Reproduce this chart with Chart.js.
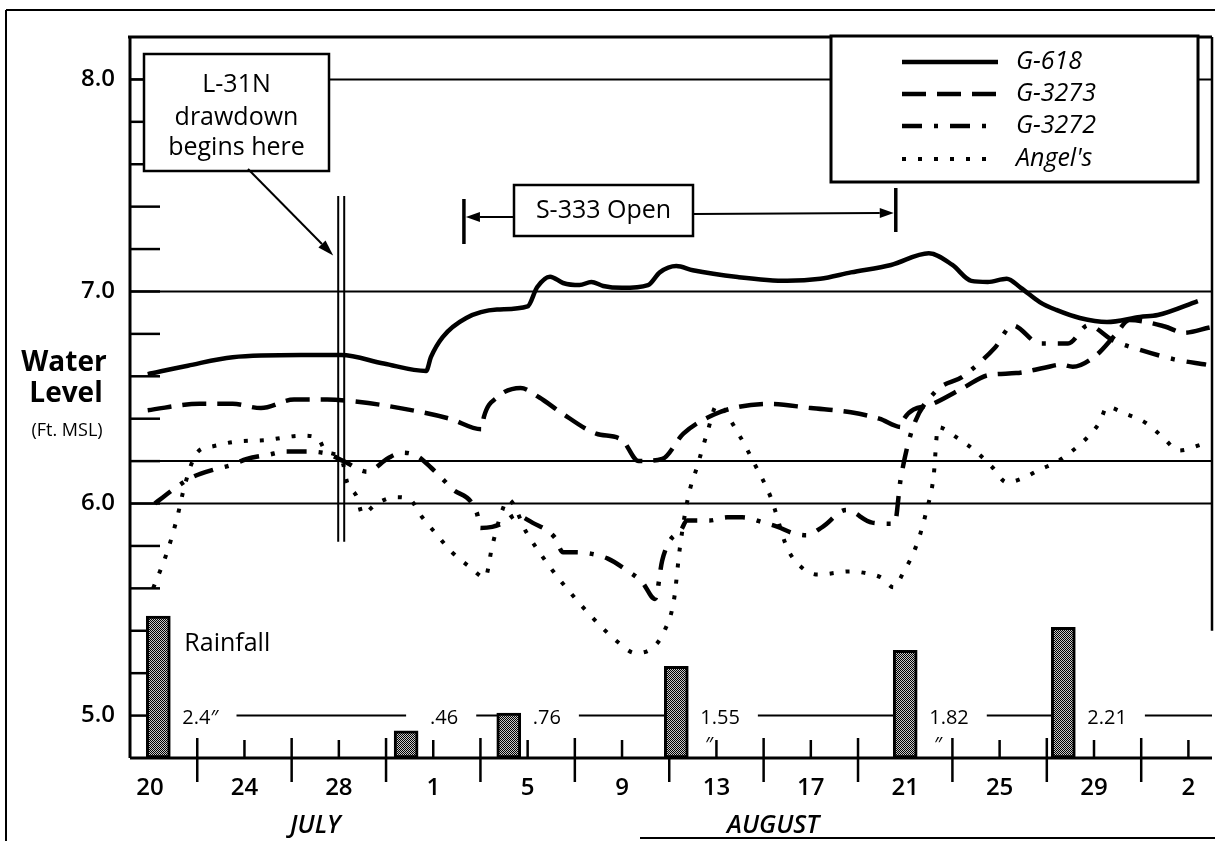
<!DOCTYPE html>
<html>
<head>
<meta charset="utf-8">
<title>Water Level and Rainfall, July–September</title>
<script src="https://cdn.jsdelivr.net/npm/chart.js@4.4.1/dist/chart.umd.min.js"></script>
<style>
  html, body { margin: 0; padding: 0; background: #fff; }
  #wrap { width: 1215px; height: 841px; }
</style>
</head>
<body>
<div id="wrap"><canvas id="chart" width="1215" height="841"></canvas></div>
<script>
const FONT = "'Open Sans', 'Noto Sans', 'DejaVu Sans', sans-serif";

// Days are counted from July 20 (day 0).
const dayTicks      = [0, 4, 8, 12, 16, 20, 24, 28, 32, 36, 40, 44];
const dayTickLabels = ['20', '24', '28', '1', '5', '9', '13', '17', '21', '25', '29', '2'];
const midDayTicks   = [2, 6, 10, 14, 18, 22, 26, 30, 34, 38, 42];
const monthLabels   = ['JULY', 'AUGUST'];
const monthCenters  = [7.0, 26.4];

// Water level axis (ft MSL)
const levelTicks = [5.0, 6.0, 7.0, 8.0];
const refLevels  = [8.0, 7.0, 6.2, 6.0];

// G-618
const g618Days  = [-0.1, 1.6, 3.5, 6.4, 8.1, 9.9, 11.7, 11.9, 12.4, 13.4, 14.7, 16.0, 16.4, 16.95, 17.5, 18.2, 18.7, 19.2, 20.0, 21.1, 21.6, 22.3, 23.0, 24.9, 27.0, 28.4, 29.7, 31.4, 33.0, 34.0, 34.8, 35.5, 36.3, 36.9, 37.7, 38.4, 39.4, 40.55, 41.95, 42.7, 44.4];
const g618Level = [6.61, 6.65, 6.69, 6.70, 6.70, 6.66, 6.625, 6.69, 6.785, 6.875, 6.915, 6.93, 7.02, 7.07, 7.04, 7.03, 7.045, 7.026, 7.017, 7.03, 7.09, 7.12, 7.10, 7.068, 7.05, 7.06, 7.09, 7.125, 7.18, 7.125, 7.05, 7.045, 7.06, 7.017, 6.95, 6.913, 6.875, 6.856, 6.88, 6.889, 6.955];

// G-3273
const g3273Days  = [-0.1, 2.1, 3.5, 4.7, 6.1, 7.5, 8.8, 10.6, 12.7, 14.05, 14.15, 14.7, 15.7, 16.5, 17.4, 18.9, 20.0, 20.7, 21.7, 22.6, 23.9, 24.9, 26.3, 28.0, 29.7, 30.9, 31.85, 31.95, 33.05, 34.45, 35.5, 36.7, 37.9, 38.6, 39.1, 40.1, 40.9, 41.5, 43.0, 43.8, 44.9];
const g3273Level = [6.44, 6.47, 6.47, 6.45, 6.49, 6.49, 6.48, 6.45, 6.40, 6.35, 6.41, 6.50, 6.545, 6.50, 6.43, 6.33, 6.30, 6.20, 6.21, 6.33, 6.42, 6.455, 6.47, 6.45, 6.43, 6.40, 6.36, 6.40, 6.465, 6.545, 6.605, 6.615, 6.64, 6.655, 6.645, 6.70, 6.795, 6.865, 6.835, 6.805, 6.83];

// G-3272
const g3272Days  = [0.2, 0.55, 1.15, 1.8, 2.7, 3.4, 4.1, 5.0, 5.8, 6.5, 7.5, 8.2, 9.2, 10.1, 10.7, 11.3, 11.9, 12.8, 13.85, 14.0, 14.5, 15.0, 15.5, 16.2, 17.15, 17.5, 17.9, 18.6, 19.4, 20.2, 20.85, 21.4, 21.7, 22.0, 22.5, 22.75, 23.7, 24.45, 25.1, 26.0, 26.6, 27.25, 27.8, 28.5, 29.5, 30.6, 31.55, 31.8, 32.3, 33.3, 34.45, 35.8, 36.55, 37.7, 38.9, 39.75, 40.8, 42.1, 43.4, 44.75];
const g3272Level = [6.00, 6.03, 6.08, 6.125, 6.16, 6.18, 6.21, 6.23, 6.245, 6.245, 6.235, 6.20, 6.15, 6.215, 6.24, 6.225, 6.17, 6.07, 5.955, 5.885, 5.89, 5.91, 5.945, 5.91, 5.84, 5.77, 5.77, 5.765, 5.74, 5.685, 5.63, 5.55, 5.73, 5.82, 5.875, 5.92, 5.92, 5.935, 5.935, 5.91, 5.89, 5.86, 5.85, 5.89, 5.97, 5.91, 5.905, 6.11, 6.35, 6.53, 6.60, 6.735, 6.84, 6.755, 6.755, 6.84, 6.77, 6.72, 6.68, 6.655];

// Angel's
const angelsDays  = [0.13, 0.72, 1.14, 1.48, 1.99, 2.67, 3.52, 4.96, 6.44, 7.1, 7.42, 8.14, 8.35, 8.77, 9.0, 9.6, 10.4, 11.0, 11.5, 12.1, 12.8, 13.56, 14.2, 14.5, 14.9, 15.17, 15.97, 16.95, 18.0, 19.2, 19.9, 20.55, 21.3, 21.8, 22.2, 22.45, 22.8, 23.2, 23.6, 24.03, 24.9, 25.6, 26.3, 27.0, 27.6, 28.3, 29.7, 30.4, 31.0, 31.5, 31.9, 32.5, 32.9, 33.2, 33.39, 34.2, 35.0, 35.7, 36.3, 37.0, 37.7, 38.4, 39.1, 39.7, 40.25, 40.55, 41.3, 42.2, 42.9, 43.6, 44.6];
const angelsLevel = [5.60, 5.77, 5.93, 6.09, 6.24, 6.27, 6.29, 6.30, 6.32, 6.31, 6.25, 6.20, 6.10, 6.03, 5.95, 6.00, 6.03, 6.02, 5.94, 5.86, 5.77, 5.70, 5.65, 5.80, 5.96, 6.02, 5.86, 5.70, 5.555, 5.41, 5.34, 5.295, 5.32, 5.40, 5.545, 5.79, 6.03, 6.18, 6.33, 6.465, 6.335, 6.19, 6.03, 5.79, 5.70, 5.665, 5.68, 5.67, 5.65, 5.605, 5.67, 5.81, 5.965, 6.125, 6.36, 6.31, 6.245, 6.17, 6.10, 6.12, 6.16, 6.195, 6.25, 6.31, 6.385, 6.455, 6.425, 6.38, 6.315, 6.25, 6.28];

// Rainfall (inches)
const rainDays       = [0.35, 10.85, 15.2, 22.3, 32.0, 38.7];
const rainInches     = [2.4, 0.46, 0.76, 1.55, 1.82, 2.21];
const rainLabels     = ['2.4″', '.46', '.76', '1.55', '1.82', '2.21'];
const rainLabelMarks = ['', '', '', '″', '″', ''];

// Events
const drawdownDay  = 8.1;
const s333OpenDays = [13.3, 31.6];

const pts = (days, vals) => days.map((d, i) => ({ x: d, y: vals[i] }));

// fine checkered fill for the rainfall bars
function stipple() {
  const c = document.createElement('canvas');
  c.width = 4; c.height = 4;
  const g = c.getContext('2d');
  g.fillStyle = '#c8c8c8'; g.fillRect(0, 0, 4, 4);
  g.fillStyle = '#000';
  for (let yy = 0; yy < 4; yy++) for (let xx = 0; xx < 4; xx++) if ((xx + yy) % 2 === 0) g.fillRect(xx, yy, 1, 1);
  return g.createPattern(c, 'repeat');
}

function hline(ctx, x0, x1, y) { ctx.beginPath(); ctx.moveTo(x0, y); ctx.lineTo(x1, y); ctx.stroke(); }
function vline(ctx, x, y0, y1) { ctx.beginPath(); ctx.moveTo(x, y0); ctx.lineTo(x, y1); ctx.stroke(); }
function arrow(ctx, x0, y0, x1, y1, head = 14, half = 5) {
  const ang = Math.atan2(y1 - y0, x1 - x0);
  const bx = x1 - head * Math.cos(ang), by = y1 - head * Math.sin(ang);
  ctx.beginPath(); ctx.moveTo(x0, y0); ctx.lineTo(bx, by); ctx.stroke();
  ctx.beginPath();
  ctx.moveTo(x1, y1);
  ctx.lineTo(bx + half * Math.sin(ang), by - half * Math.cos(ang));
  ctx.lineTo(bx - half * Math.sin(ang), by + half * Math.cos(ang));
  ctx.closePath(); ctx.fill();
}

const lineStyle = { borderColor: '#000', borderWidth: 4.5, pointRadius: 0, fill: false,
                    cubicInterpolationMode: 'monotone', borderCapStyle: 'butt', borderJoinStyle: 'round' };

const datasets = [
  { ...lineStyle, type: 'line', label: 'G-618',  data: pts(g618Days, g618Level) },
  { ...lineStyle, type: 'line', label: 'G-3273', data: pts(g3273Days, g3273Level), borderDash: [24, 11] },
  { ...lineStyle, type: 'line', label: 'G-3272', data: pts(g3272Days, g3272Level), borderDash: [20, 12, 4, 12] },
  { ...lineStyle, type: 'line', label: "Angel's", data: pts(angelsDays, angelsLevel), borderDash: [4, 12], borderWidth: 4 },
  { type: 'bar', label: 'Rainfall', data: pts(rainDays, rainInches), yAxisID: 'rain',
    backgroundColor: stipple(), borderColor: '#000', borderWidth: 3, borderSkipped: false,
    barThickness: 24, grouped: false }
];
const RAIN = 4;

const paper = {
  id: 'paper',
  beforeDatasetsDraw(chart) {
    const { ctx, chartArea: a, scales: { x, y } } = chart;
    ctx.save();
    ctx.strokeStyle = '#000'; ctx.fillStyle = '#000';

    // level reference lines
    ctx.lineWidth = 2;
    refLevels.forEach(v => hline(ctx, a.left, a.right, y.getPixelForValue(v)));

    // 0.2 ft ticks on the inside of the level axis
    ctx.lineWidth = 2.5;
    for (let i = 0; i <= 15; i++) hline(ctx, a.left, a.left + 30, y.getPixelForValue(5 + i * 0.2));

    // day ticks
    dayTicks.forEach(d => vline(ctx, x.getPixelForValue(d), a.bottom - 18, a.bottom));
    midDayTicks.forEach(d => vline(ctx, x.getPixelForValue(d), a.bottom - 20, a.bottom + 24));

    // rainfall totals written along the 5.0 ft line
    const bars = chart.getDatasetMeta(RAIN).data;
    const y5 = y.getPixelForValue(5.0);
    ctx.font = `20px ${FONT}`;
    ctx.textBaseline = 'middle'; ctx.textAlign = 'left';
    ctx.lineWidth = 2;
    bars.forEach((el, i) => {
      const lx = el.x + el.width / 2 + 12;
      const w = ctx.measureText(rainLabels[i]).width;
      ctx.fillText(rainLabels[i], lx, y5 + 3);
      if (rainLabelMarks[i]) ctx.fillText(rainLabelMarks[i], lx + 5, y5 + 30);
      const end = i < bars.length - 1 ? bars[i + 1].x : a.right;
      hline(ctx, lx + w + 18, end, y5);
    });
    ctx.restore();
  },

  afterDatasetsDraw(chart) {
    const { ctx, chartArea: a, scales: { x, y } } = chart;
    ctx.save();
    ctx.strokeStyle = '#000'; ctx.fillStyle = '#000';

    // outer frame
    ctx.lineWidth = 2;
    hline(ctx, 6, 1215, 10);
    vline(ctx, 6, 10, 841);
    hline(ctx, 640, 1215, 838);

    // plot frame
    ctx.lineWidth = 3;
    hline(ctx, a.left - 2, a.right, a.top);
    vline(ctx, a.left, a.top, a.bottom);
    hline(ctx, a.left, a.right, a.bottom);
    ctx.lineWidth = 2.5;
    vline(ctx, a.right, a.top, y.getPixelForValue(5.4));

    // drawdown marker
    const xd = x.getPixelForValue(drawdownDay);
    ctx.lineWidth = 2;
    vline(ctx, xd - 3, y.getPixelForValue(7.45), y.getPixelForValue(5.82));
    vline(ctx, xd + 3, y.getPixelForValue(7.45), y.getPixelForValue(5.82));

    // drawdown callout
    const bx = a.left + 14, by = 54, bw = 185, bh = 117;
    ctx.fillStyle = '#fff'; ctx.fillRect(bx, by, bw, bh);
    ctx.fillStyle = '#000'; ctx.lineWidth = 2.5; ctx.strokeRect(bx, by, bw, bh);
    ctx.font = `25px ${FONT}`; ctx.textAlign = 'center'; ctx.textBaseline = 'alphabetic';
    ctx.fillText('L-31N', bx + bw / 2, 92);
    ctx.fillText('drawdown', bx + bw / 2, 125);
    ctx.fillText('begins here', bx + bw / 2, 155);
    ctx.lineWidth = 2;
    arrow(ctx, bx + 104, by + bh - 2, xd - 8, y.getPixelForValue(7.17), 16, 5);

    // S-333 open period
    const xo = x.getPixelForValue(s333OpenDays[0]), xc = x.getPixelForValue(s333OpenDays[1]);
    ctx.lineWidth = 3.5;
    vline(ctx, xo, 199, 244);
    vline(ctx, xc, 188, 232);
    const sl = 514, st = 185, sw = 179, sh = 51;
    ctx.lineWidth = 2;
    arrow(ctx, sl, 217, xo + 2, 217, 14, 5);
    arrow(ctx, sl + sw, 214, xc - 2, 213, 14, 5);
    ctx.fillStyle = '#fff'; ctx.fillRect(sl, st, sw, sh);
    ctx.fillStyle = '#000'; ctx.lineWidth = 2.5; ctx.strokeRect(sl, st, sw, sh);
    ctx.font = `25px ${FONT}`; ctx.textAlign = 'center'; ctx.textBaseline = 'middle';
    ctx.fillText('S-333 Open', sl + sw / 2, st + sh / 2);

    // legend
    const ll = 831, lt = a.top - 1, lw = 367, lh = 146;
    ctx.fillStyle = '#fff'; ctx.fillRect(ll, lt, lw, lh);
    ctx.fillStyle = '#000'; ctx.lineWidth = 3; ctx.strokeRect(ll, lt, lw, lh);
    const rows = [62, 94, 126, 159];
    ctx.font = `italic 25px ${FONT}`; ctx.textAlign = 'left'; ctx.textBaseline = 'middle';
    datasets.slice(0, 4).forEach((ds, i) => {
      ctx.save();
      ctx.lineWidth = ds.borderWidth;
      ctx.lineCap = 'butt';
      ctx.setLineDash(ds.borderDash || []);
      hline(ctx, 902, 998, rows[i]);
      ctx.restore();
      ctx.fillText(ds.label, 1016, rows[i]);
    });

    // rainfall caption
    const b0 = chart.getDatasetMeta(RAIN).data[0];
    ctx.font = `25px ${FONT}`; ctx.textAlign = 'left'; ctx.textBaseline = 'middle';
    ctx.fillText('Rainfall', b0.x + b0.width / 2 + 14, y.getPixelForValue(5.34));

    // level axis title
    ctx.textAlign = 'center';
    ctx.font = `bold 28px ${FONT}`;
    ctx.fillText('Water', 64, 363);
    ctx.fillText('Level', 66, 394);
    ctx.font = `18px ${FONT}`;
    ctx.fillText('(Ft. MSL)', 67, 431);

    // months
    ctx.font = `italic 600 25px ${FONT}`;
    monthLabels.forEach((m, i) => ctx.fillText(m, x.getPixelForValue(monthCenters[i]), 826));

    ctx.restore();
  }
};

new Chart(document.getElementById('chart'), {
  type: 'line',
  data: { datasets },
  plugins: [paper],
  options: {
    responsive: false,
    animation: false,
    devicePixelRatio: 1,
    layout: { padding: { top: 37, right: 3, bottom: 0, left: 0 } },
    plugins: { legend: { display: false }, tooltip: { enabled: false } },
    scales: {
      x: {
        type: 'linear', min: -0.85, max: 45.0, offset: false,
        grid: { display: false, drawTicks: false, offset: false }, border: { display: false },
        afterBuildTicks: s => { s.ticks = dayTicks.map(v => ({ value: v })); },
        afterFit: s => { s.height = 83; },
        ticks: {
          autoSkip: false, maxRotation: 0, padding: 16, color: '#000',
          font: { family: FONT, size: 24, weight: '600' },
          callback: (v, i) => dayTickLabels[i]
        }
      },
      y: {
        type: 'linear', position: 'left', min: 4.8, max: 8.2,
        grid: { display: false, drawTicks: false }, border: { display: false },
        afterBuildTicks: s => { s.ticks = levelTicks.map(v => ({ value: v })); },
        afterFit: s => { s.width = 130; },
        ticks: {
          padding: 15, color: '#000',
          font: { family: FONT, size: 24, weight: '600' },
          callback: v => Number(v).toFixed(1)
        }
      },
      rain: {
        type: 'linear', position: 'right', min: 0, max: 12.2,
        grid: { display: false, drawTicks: false }, border: { display: false },
        ticks: { display: false },
        afterFit: s => { s.width = 0; }
      }
    }
  }
});
</script>
</body>
</html>
